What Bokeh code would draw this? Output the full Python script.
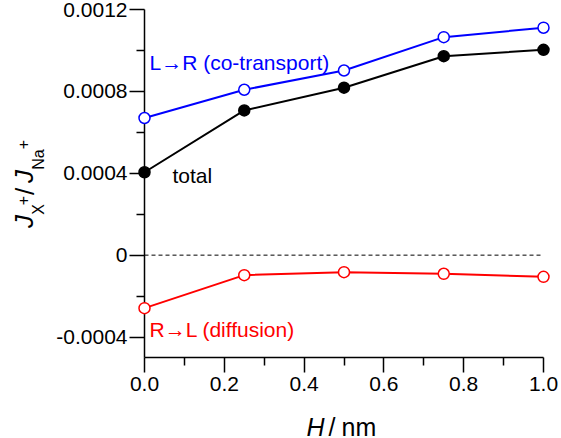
import numpy as np
from bokeh.plotting import figure
from bokeh.models import Range1d, FixedTicker, Label, LinearAxis, CustomJSTickFormatter
from bokeh.embed import file_html
from bokeh.resources import INLINE

# ---------------- data ----------------
H_nm = [0.0, 0.25, 0.5, 0.75, 1.0]
l_to_r = [0.000670, 0.000808, 0.000902, 0.001065, 0.001111]
total = [0.000405, 0.000707, 0.000818, 0.000972, 0.001003]
r_to_l = [-0.000259, -0.0000976, -0.000083, -0.000091, -0.000106]

x_ticks = [0.0, 0.2, 0.4, 0.6, 0.8, 1.0]
x_tick_labels = ["0.0", "0.2", "0.4", "0.6", "0.8", "1.0"]
x_minor = [0.1, 0.3, 0.5, 0.7, 0.9]
y_ticks = [-0.0004, 0.0, 0.0004, 0.0008, 0.0012]
y_tick_labels = ["-0.0004", "0", "0.0004", "0.0008", "0.0012"]
y_minor = [-0.0002, 0.0002, 0.0006, 0.0010]

X_MIN, X_MAX = 0.0, 1.0
Y_MIN, Y_MAX = -0.0005, 0.0012

label_lr = "L\u2192R (co-transport)"
label_total = "total"
label_rl = "R\u2192L (diffusion)"

# ---------------- layout (pixel coords of the canvas) ----------------
W, HT = 561, 438
AX0, AX1 = 144, 543      # pixel x of X_MIN, X_MAX
AY0, AY1 = 357, 9        # pixel y of Y_MIN, Y_MAX
kx = (X_MAX - X_MIN) / (AX1 - AX0)
ky = (Y_MAX - Y_MIN) / (AY0 - AY1)
x_start = X_MIN - AX0 * kx
x_end = X_MAX + (W - AX1) * kx
y_end = Y_MAX + AY1 * ky
y_start = Y_MIN - (HT - AY0) * ky


def dx(px):
    return X_MIN + (px - AX0) * kx


def dy(py):
    return Y_MAX - (py - AY1) * ky


FONT = "Liberation Sans"
BLUE = "#0000ff"
RED = "#ff0000"

p = figure(width=W, height=HT, x_range=Range1d(x_start, x_end),
           y_range=Range1d(y_start, y_end), output_backend="svg",
           toolbar_location=None, x_axis_type=None, y_axis_type=None,
           min_border=0)
p.outline_line_color = None
p.background_fill_color = "white"
p.border_fill_color = "white"


def fmt(tv, tl):
    return CustomJSTickFormatter(args=dict(tv=tv, tl=tl), code="""
let best = 0; let d = Infinity;
for (let i = 0; i < tv.length; i++) { const e = Math.abs(tv[i] - tick); if (e < d) { d = e; best = i } }
return tl[best];
""")


def style_axis(ax):
    ax.axis_line_width = 1.5
    ax.axis_line_color = "black"
    ax.major_tick_out = 15
    ax.major_tick_in = 0
    ax.minor_tick_out = 8
    ax.minor_tick_in = 0
    ax.major_tick_line_width = 1.5
    ax.minor_tick_line_width = 1.5
    ax.major_tick_line_color = "black"
    ax.minor_tick_line_color = "black"
    ax.major_label_text_font = FONT
    ax.major_label_text_font_size = "21px"
    ax.major_label_text_color = "black"


xaxis = LinearAxis(ticker=FixedTicker(ticks=x_ticks, minor_ticks=x_minor),
                   formatter=fmt(x_ticks, x_tick_labels), bounds=(X_MIN, X_MAX),
                   fixed_location=Y_MIN)
style_axis(xaxis)
xaxis.major_label_standoff = 4
p.add_layout(xaxis, "below")

yaxis = LinearAxis(ticker=FixedTicker(ticks=y_ticks, minor_ticks=y_minor),
                   formatter=fmt(y_ticks, y_tick_labels), bounds=(Y_MIN, Y_MAX),
                   fixed_location=X_MIN)
style_axis(yaxis)
yaxis.major_label_standoff = 2
p.add_layout(yaxis, "left")

# zero reference line
p.segment(x0=[H_nm[0]], y0=[0.0], x1=[H_nm[-1]], y1=[0.0],
          line_color="black", line_width=1, line_dash="4 3")

# series
p.line(H_nm, l_to_r, line_color=BLUE, line_width=2, level="annotation")
p.line(H_nm, total, line_color="black", line_width=2, level="annotation")
p.line(H_nm, r_to_l, line_color=RED, line_width=2, level="annotation")
p.scatter(H_nm, l_to_r, size=11, fill_color="white", line_color=BLUE,
          line_width=1.5, level="annotation")
p.scatter(H_nm, total, size=11, fill_color="black", line_color="black",
          line_width=1.5, level="annotation")
p.scatter(H_nm, r_to_l, size=11, fill_color="white", line_color=RED,
          line_width=1.5, level="annotation")

# in-plot labels
p.add_layout(Label(x=dx(149), y=dy(62), text=label_lr, text_color=BLUE,
                   text_font=FONT, text_font_size="21px", text_baseline="middle"))
p.add_layout(Label(x=dx(172), y=dy(175), text=label_total, text_color="black",
                   text_font=FONT, text_font_size="21px", text_baseline="middle"))
p.add_layout(Label(x=dx(149), y=dy(329), text=label_rl, text_color=RED,
                   text_font=FONT, text_font_size="21px", text_baseline="middle"))

# x-axis title: H / nm
p.add_layout(Label(x=dx(324), y=dy(426), text="H", text_font=FONT,
                   text_font_style="italic", text_font_size="25px",
                   text_color="black", text_align="right",
                   text_baseline="alphabetic"))
p.add_layout(Label(x=dx(328), y=dy(426), text="/", text_font=FONT,
                   text_font_size="25px", text_color="black",
                   text_align="left", text_baseline="alphabetic"))
p.add_layout(Label(x=dx(341), y=dy(426), text="nm", text_font=FONT,
                   text_font_size="25px", text_color="black",
                   text_align="left", text_baseline="alphabetic"))

# y-axis title: J_{X+}/J_{Na+} (rotated), pieces placed by their centres
pieces = [
    ("J", "italic", "26px", 23, 221),
    ("X", "normal", "16px", 38, 209),
    ("+", "normal", "16px", 22, 200),
    ("/", "normal", "26px", 24, 191),
    ("J", "italic", "26px", 23, 176),
    ("Na", "normal", "16px", 38, 159),
    ("+", "normal", "16px", 22, 144),
]
for txt, style, size, fx, fy in pieces:
    p.add_layout(Label(x=dx(fx), y=dy(fy), text=txt, text_font=FONT,
                       text_font_style=style, text_font_size=size,
                       text_color="black", angle=np.pi / 2,
                       text_align="center", text_baseline="middle"))

open("out.html", "w").write(file_html(p, INLINE))
